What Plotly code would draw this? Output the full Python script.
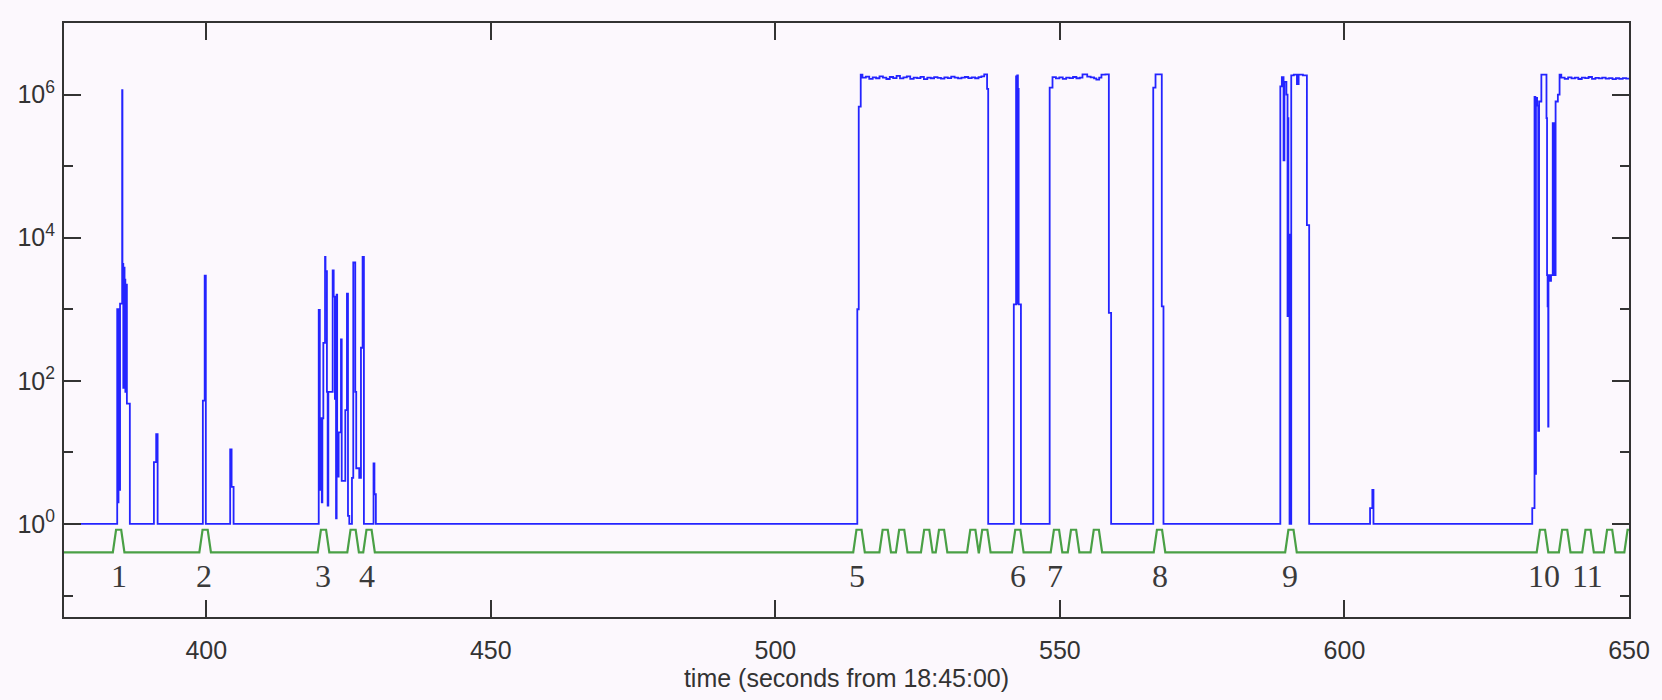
import numpy as np
import plotly.graph_objects as go

# ---------------- data ----------------
# blue signal: sample times (s from 18:45:00) and values, held until next sample
base_t = [375.0]
base_v = [1]

burst1_t = [384.35, 384.48, 384.58, 384.72, 384.85, 385.22, 385.27, 385.42, 385.50, 385.64, 385.78, 385.90, 386.05, 386.57]
burst1_v = [1000, 2, 1000, 3, 1200, 1.15e6, 4300, 80, 3800, 2600, 70, 2200, 48, 1]

small_t = [390.80, 391.20, 391.45, 399.40, 399.72, 399.92, 404.20, 404.45, 404.80]
small_v = [7.3, 18, 1, 53, 2960, 1, 11, 3.3, 1]

burst34_t = [419.76, 419.95, 420.05, 420.30, 420.40, 420.57, 420.87, 420.95, 421.20, 421.33, 421.45,
             422.21, 422.39, 422.60, 422.80, 422.91, 423.00, 423.26, 423.67, 423.80, 424.43, 424.72,
             424.90, 425.13, 425.60, 425.83, 426.18, 426.35, 426.88, 427.18, 427.47, 427.70,
             429.39, 429.55, 429.80]
burst34_v = [980, 3, 30, 2, 30, 340, 5400, 3400, 70, 1.8, 70,
             3500, 1500, 56, 1.2, 1600, 4.6, 19, 380, 4, 39, 1650,
             1.3, 1, 4.4, 4500, 70, 6, 4.4, 290, 5400, 1,
             7, 2.6, 1]

plateau5_t = [514.40, 514.65, 515.00, 515.30, 515.90, 516.50, 517.10, 517.70, 518.30, 518.90, 519.50,
              520.10, 520.70, 521.30, 521.90, 522.50, 523.10, 523.70, 524.30, 524.90, 525.50, 526.10,
              526.70, 527.30, 527.90, 528.50, 529.10, 529.70, 530.30, 530.90, 531.50, 532.10, 532.70,
              533.30, 533.90, 534.50, 535.10, 535.70, 536.20, 536.70, 537.20, 537.40]
plateau5_v = [1000, 6.8e5, 1.9e6, 1.72e6, 1.78e6, 1.66e6, 1.74e6, 1.69e6, 1.80e6, 1.72e6, 1.65e6,
              1.76e6, 1.70e6, 1.82e6, 1.68e6, 1.74e6, 1.79e6, 1.66e6, 1.73e6, 1.70e6, 1.77e6, 1.64e6,
              1.72e6, 1.69e6, 1.75e6, 1.71e6, 1.67e6, 1.74e6, 1.70e6, 1.78e6, 1.72e6, 1.68e6, 1.73e6,
              1.76e6, 1.70e6, 1.74e6, 1.69e6, 1.75e6, 1.80e6, 1.92e6, 1.2e6, 1]

spike6_t = [541.90, 542.30, 542.42, 542.50, 542.62, 542.75, 543.15]
spike6_v = [1170, 1.8e6, 1200, 1.85e6, 1.2e6, 1170, 1]

plateau7_t = [548.20, 548.70, 549.30, 549.90, 550.50, 551.10, 551.70, 552.30, 552.90, 553.50, 553.97,
              554.80, 555.40, 556.00, 556.40, 556.90, 557.30, 558.00, 558.60, 559.00]
plateau7_v = [1.25e6, 1.75e6, 1.68e6, 1.74e6, 1.66e6, 1.72e6, 1.70e6, 1.76e6, 1.69e6, 1.73e6, 1.92e6,
              1.78e6, 1.74e6, 1.68e6, 1.62e6, 1.72e6, 1.90e6, 1.92e6, 890, 1]

spike8_t = [566.40, 566.80, 567.90, 568.20]
spike8_v = [1.25e6, 1.92e6, 1100, 1]

group9_t = [588.73, 589.00, 589.30, 589.45, 589.80, 590.00, 590.05, 590.15, 590.25, 590.35,
            590.65, 591.10, 591.65, 591.95, 592.70, 593.40, 593.80]
group9_v = [1.3e6, 1.75e6, 1.2e5, 1.5e6, 1.0e6, 800, 4.7e5, 800, 1.1e4, 1,
            1.85e6, 1.9e6, 1.4e6, 1.9e6, 1.85e6, 1.5e4, 1]

spike605_t = [604.50, 604.90, 605.10]
spike605_v = [1.66, 3.0, 1]

group10_t = [633.00, 633.40, 633.55, 633.65, 633.85, 634.05, 634.20, 634.60, 635.50, 635.60, 635.70,
             635.80, 635.85, 636.05, 636.30, 636.60, 636.90, 637.10, 637.50, 637.80,
             638.10, 638.70, 639.30, 639.90, 640.50, 641.10, 641.70, 642.30, 642.90, 643.50,
             644.10, 644.70, 645.30, 645.90, 646.50, 647.10, 647.70, 648.30, 648.90, 649.50, 650.50]
group10_v = [1.66, 9.3e5, 5, 9e5, 7e5, 20, 8e5, 1.9e6, 4.7e5, 3000, 1100,
             23, 3000, 2500, 3000, 4e5, 3000, 8e5, 1e6, 1.9e6,
             1.72e6, 1.66e6, 1.74e6, 1.68e6, 1.72e6, 1.65e6, 1.73e6, 1.70e6, 1.76e6, 1.66e6,
             1.71e6, 1.68e6, 1.73e6, 1.67e6, 1.70e6, 1.64e6, 1.69e6, 1.66e6, 1.70e6, 1.67e6, 1.66e6]

# green marker signal: pulse centres (s) and its two levels
pulse_centers = [384.6, 399.8, 420.6, 425.8, 428.6, 514.7, 519.3, 522.2, 526.6, 529.2,
                 534.7, 536.8, 542.6, 549.4, 552.4, 556.4, 567.5, 590.6,
                 634.8, 638.7, 642.8, 646.6, 650.2]
green_low = 0.40
green_high = 0.83

# event numbers written under the green signal
event_labels = ["1", "2", "3", "4", "5", "6", "7", "8", "9", "10", "11"]
event_times = [384.6, 399.6, 420.45, 428.2, 514.3, 542.6, 549.2, 567.6, 590.5, 635.0, 642.7]
event_level = 0.19

x_ticks = [400, 450, 500, 550, 600, 650]
y_major = [1, 100, 1e4, 1e6]
y_major_text = ["10<sup>0</sup>", "10<sup>2</sup>", "10<sup>4</sup>", "10<sup>6</sup>"]
y_minor = [0.1, 10, 1000, 1e5]

# ---------------- build ----------------
blue_t = base_t + burst1_t + small_t + burst34_t + plateau5_t + spike6_t + plateau7_t + spike8_t \
    + group9_t + spike605_t + group10_t
blue_v = base_v + burst1_v + small_v + burst34_v + plateau5_v + spike6_v + plateau7_v + spike8_v \
    + group9_v + spike605_v + group10_v

rise_half_bottom = 1.02
rise_half_top = 0.45
gx, gy = [375.0], [green_low]
for c in pulse_centers:
    gx += [c - rise_half_bottom, c - rise_half_top, c + rise_half_top, c + rise_half_bottom]
    gy += [green_low, green_high, green_high, green_low]
gx.append(652.0)
gy.append(green_low)

BG = "#fcf8fd"
AX = "#333333"

fig = go.Figure()
fig.add_trace(go.Scatter(x=gx, y=gy, mode="lines",
                         line=dict(color="#4aa046", width=2.2), hoverinfo="skip"))
fig.add_trace(go.Scatter(x=blue_t, y=blue_v, mode="lines",
                         line=dict(color="#2424ff", width=1.8, shape="hv")))

for lab, t in zip(event_labels, event_times):
    fig.add_annotation(x=t, y=np.log10(event_level), xref="x", yref="y", text=lab,
                       showarrow=False,
                       font=dict(family="Liberation Serif, Times New Roman, serif", size=32, color="#3a3a3a"))

fig.update_layout(
    width=1662, height=700,
    margin=dict(l=64, r=29, t=23, b=76),
    paper_bgcolor=BG, plot_bgcolor=BG,
    showlegend=False,
    font=dict(family="Liberation Sans, Arial, sans-serif", size=25, color="#333333"),
)
fig.update_xaxes(
    range=[375, 650], tickmode="array", tickvals=x_ticks,
    ticks="inside", ticklen=17, tickwidth=2, tickcolor=AX,
    showline=True, linecolor=AX, linewidth=2, mirror="ticks",
    showgrid=False, zeroline=False, ticklabelstandoff=10,
    title=dict(text="time (seconds from 18:45:00)", standoff=6,
               font=dict(size=25, color="#333333")),
)
fig.update_yaxes(
    type="log", range=[-1.3, 7.0], tickmode="array", tickvals=y_major, ticktext=y_major_text,
    ticks="inside", ticklen=17, tickwidth=2, tickcolor=AX,
    minor=dict(tickmode="array", tickvals=y_minor, ticks="inside", ticklen=9, tickwidth=2, tickcolor=AX),
    showline=True, linecolor=AX, linewidth=2, mirror="ticks",
    showgrid=False, zeroline=False, ticklabelstandoff=2,
)

fig.write_html("out.html")
